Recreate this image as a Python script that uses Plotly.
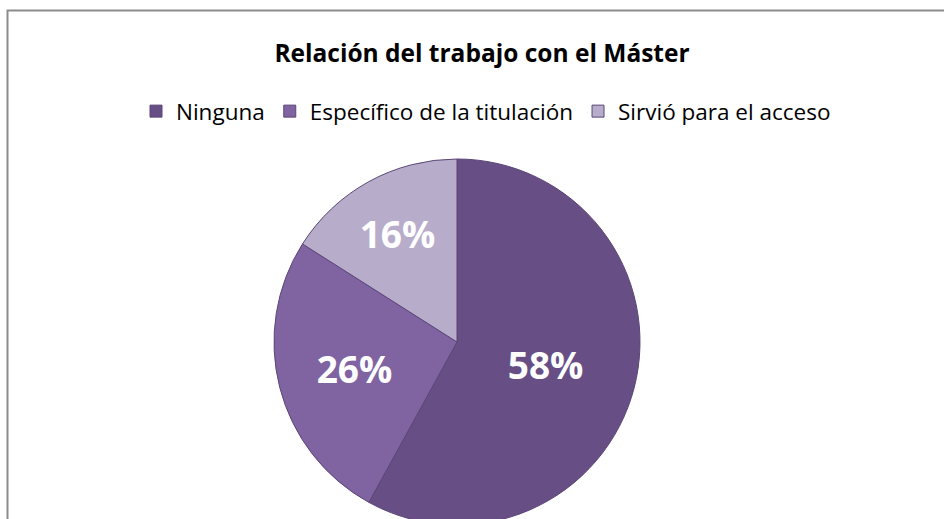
import plotly.graph_objects as go

categories = ["Ninguna", "Específico de la titulación", "Sirvió para el acceso"]
values = [58, 26, 16]
colors = ["#674F85", "#8064A2", "#B8ACCB"]
title_text = "Relación del trabajo con el Máster"

W, H = 944, 525
cx, cy, r = 457, 342, 183

fig = go.Figure(go.Pie(
    labels=categories,
    values=values,
    sort=False,
    direction="clockwise",
    rotation=0,
    marker=dict(colors=colors, line=dict(color="#5B4677", width=1)),
    textinfo="percent",
    texttemplate="%{percent:.0%}",
    textposition="inside",
    insidetextorientation="horizontal",
    textfont=dict(family="Open Sans", size=37, color="white", weight="bold"),
    domain=dict(x=[(cx - r) / W, (cx + r) / W], y=[0, (H - (cy - r)) / H]),
    hoverinfo="label+percent",
))

fig.update_layout(
    width=W, height=H,
    margin=dict(l=0, r=0, t=0, b=0),
    paper_bgcolor="white",
    plot_bgcolor="white",
    font=dict(family="Open Sans", color="black"),
    title=dict(
        text=title_text,
        x=482 / W, xanchor="center",
        y=1 - 53 / H, yanchor="middle",
        xref="paper", yref="paper",
        font=dict(family="Open Sans", size=24.5, color="black", weight="bold"),
    ),
    legend=dict(
        orientation="h",
        x=486 / W, xanchor="center",
        y=1 - 111.5 / H, yanchor="middle",
        font=dict(family="Open Sans", size=22.5, color="black"),
        itemwidth=30,
    ),
    shapes=[dict(
        type="rect", xref="paper", yref="paper",
        x0=7.5 / W, x1=1.05, y0=-0.05, y1=1 - 10.5 / H,
        line=dict(color="#8C8C8C", width=2),
        fillcolor="rgba(0,0,0,0)", layer="below",
    )],
)

fig.write_html(
    "out.html",
    config={"displayModeBar": False},
    post_script="document.body.style.margin='0';document.body.style.overflow='hidden';document.documentElement.style.overflow='hidden';",
)
